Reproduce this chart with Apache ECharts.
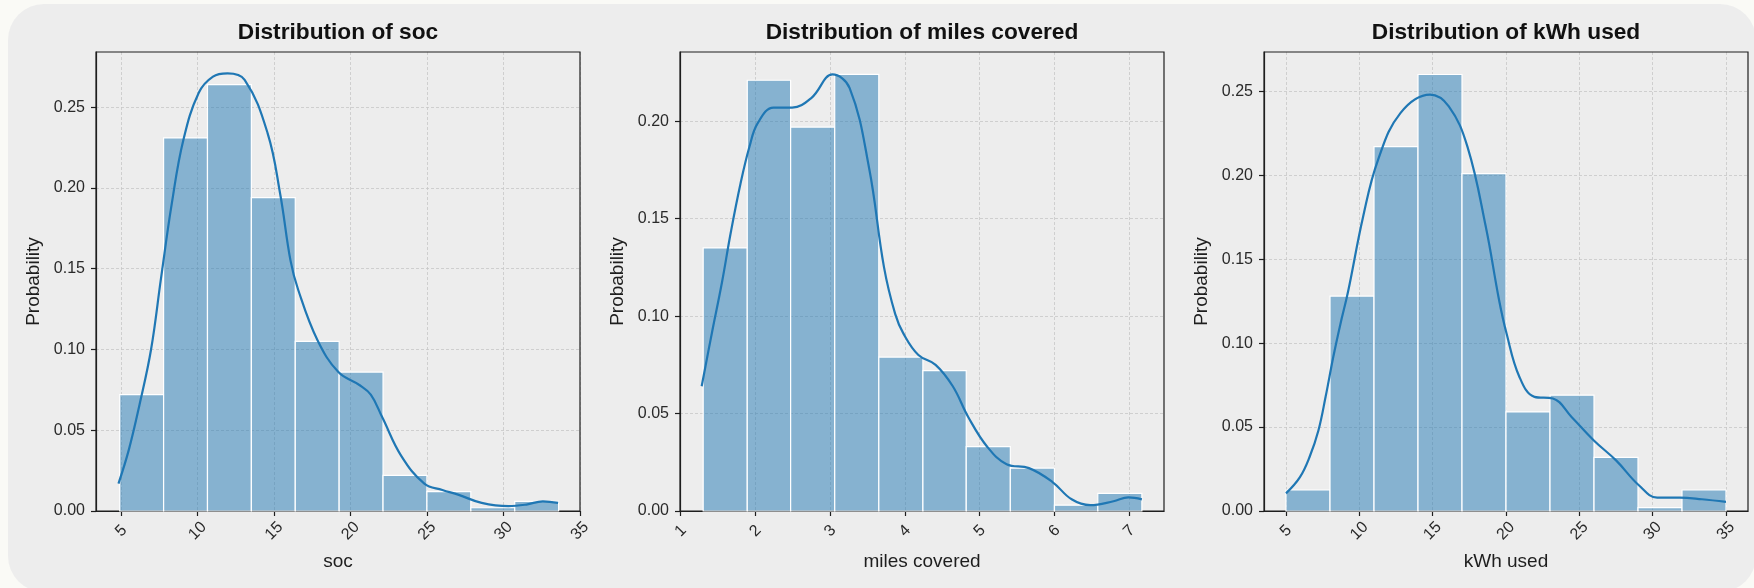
<!DOCTYPE html>
<html>
<head>
<meta charset="utf-8">
<script src="https://cdn.jsdelivr.net/npm/echarts@6/dist/echarts.min.js"></script>
<style>
  html, body { margin: 0; padding: 0; background: #fafaf6; }
  #card {
    position: absolute; left: 8px; top: 4px; width: 1748px; height: 588px;
    background: #ededed; border-radius: 36px;
  }
  #chart { position: absolute; left: 0; top: 0; width: 1754px; height: 588px; }
</style>
</head>
<body>
<div id="card"></div>
<div id="chart"></div>
<script>
// histogram bin edges + probabilities
var socEdges = [4.9, 7.77, 10.64, 13.51, 16.38, 19.25, 22.12, 24.99, 27.86, 30.73, 33.6];
var socProb = [0.072, 0.231, 0.264, 0.194, 0.105, 0.086, 0.022, 0.012, 0.002, 0.006];
var socKdeX = [4.82, 5.5, 6.2, 6.95, 7.6, 8.3, 9.07, 10.07, 11.0, 11.95, 13.07, 14.57, 15.4, 16.07, 16.57, 17.82, 19.2, 20.57, 21.32, 22.07, 23.32, 24.82, 26.0, 27.07, 28.57, 30.32, 31.5, 32.57, 33.57];
var socKdeY = [0.017, 0.038, 0.066, 0.100, 0.144, 0.190, 0.230, 0.259, 0.269, 0.271, 0.267, 0.234, 0.196, 0.155, 0.137, 0.106, 0.086, 0.078, 0.072, 0.058, 0.034, 0.017, 0.013, 0.010, 0.005, 0.003, 0.004, 0.006, 0.005];

var milesEdges = [1.30, 1.89, 2.47, 3.06, 3.65, 4.24, 4.82, 5.41, 6.00, 6.58, 7.17];
var milesProb = [0.135, 0.221, 0.197, 0.224, 0.079, 0.072, 0.033, 0.022, 0.003, 0.009];
var milesKdeX = [1.28, 1.42, 1.55, 1.67, 1.80, 1.92, 2.03, 2.24, 2.49, 2.75, 3.03, 3.26, 3.52, 3.72, 3.87, 3.98, 4.18, 4.41, 4.64, 4.85, 5.10, 5.36, 5.66, 5.97, 6.23, 6.48, 6.79, 6.99, 7.17];
var milesKdeY = [0.064, 0.092, 0.117, 0.143, 0.168, 0.187, 0.199, 0.207, 0.207, 0.212, 0.224, 0.217, 0.176, 0.125, 0.101, 0.091, 0.080, 0.075, 0.064, 0.048, 0.033, 0.024, 0.022, 0.015, 0.006, 0.003, 0.005, 0.007, 0.006];

var kwhEdges = [5, 8, 11, 14, 17, 20, 23, 26, 29, 32, 35];
var kwhProb = [0.0125, 0.128, 0.217, 0.260, 0.201, 0.059, 0.069, 0.032, 0.002, 0.0125];
var kwhKdeX = [5.0, 5.94, 6.6, 7.21, 7.7, 8.23, 8.7, 9.24, 10.25, 11.27, 12.8, 14.82, 16.1, 17.37, 18.63, 19.52, 20.03, 20.91, 21.94, 23.2, 24.47, 25.99, 27.52, 29.04, 30.31, 31.84, 33.36, 35.0];
var kwhKdeY = [0.0105, 0.020, 0.032, 0.048, 0.068, 0.092, 0.111, 0.131, 0.175, 0.209, 0.237, 0.248, 0.241, 0.217, 0.169, 0.126, 0.106, 0.080, 0.068, 0.067, 0.056, 0.042, 0.030, 0.0155, 0.008, 0.008, 0.007, 0.0054];

var titles = ['Distribution of soc', 'Distribution of miles covered', 'Distribution of kWh used'];
var xNames = ['soc', 'miles covered', 'kWh used'];
var xRanges = [[3.35, 35.0], [0.99, 7.466], [3.5, 36.5]];
var xTicks = [[5, 10, 15, 20, 25, 30, 35], [1, 2, 3, 4, 5, 6, 7], [5, 10, 15, 20, 25, 30, 35]];
var yMax = [0.2842, 0.2355, 0.2734];
var yTicks = [[0, 0.05, 0.10, 0.15, 0.20, 0.25], [0, 0.05, 0.10, 0.15, 0.20], [0, 0.05, 0.10, 0.15, 0.20, 0.25]];

var gridLefts = [96, 680, 1264];
var FONT = '"Liberation Sans", Arial, sans-serif';
var INK = '#1e1e1e';
var gridLine = { show: true, lineStyle: { color: '#c6c6c6', width: 0.8, type: [3, 2] } };

var chart = echarts.init(document.getElementById('chart'));

var hists = [[socEdges, socProb], [milesEdges, milesProb], [kwhEdges, kwhProb]];
var kdes = [[socKdeX, socKdeY], [milesKdeX, milesKdeY], [kwhKdeX, kwhKdeY]];

var grids = [], xAxes = [], yAxes = [], series = [], titleOpts = [];
for (var i = 0; i < 3; i++) {
    grids.push({
        left: gridLefts[i], top: 52, width: 484, height: 459, z: 1,
        show: true, borderColor: INK, borderWidth: 1.2, backgroundColor: 'transparent'
    });
    titleOpts.push({
        text: titles[i], left: gridLefts[i] + 242, top: 21, textAlign: 'center', padding: 0,
        textStyle: { fontFamily: FONT, fontSize: 22.7, fontWeight: 'bold', color: '#111' }
    });
    xAxes.push({
        type: 'value', gridIndex: i, min: xRanges[i][0], max: xRanges[i][1],
        name: xNames[i], nameLocation: 'middle', nameGap: 41,
        nameTextStyle: { fontFamily: FONT, fontSize: 19, color: INK },
        axisLine: { show: true, onZero: false, lineStyle: { color: INK, width: 1.2 } },
        axisTick: { show: true, length: 5, lineStyle: { color: INK, width: 1.2 }, customValues: xTicks[i] },
        axisLabel: {
            customValues: xTicks[i], rotate: 45, align: 'center', verticalAlign: 'middle', margin: 20,
            fontFamily: FONT, fontSize: 16, color: '#2a2a2a'
        },
        splitLine: gridLine
    });
    yAxes.push({
        type: 'value', gridIndex: i, min: 0, max: yMax[i],
        name: 'Probability', nameLocation: 'middle', nameGap: 53, nameRotate: 90,
        nameTextStyle: { fontFamily: FONT, fontSize: 19, color: INK },
        axisLine: { show: true, lineStyle: { color: INK, width: 1.2 } },
        axisTick: { show: true, length: 5, lineStyle: { color: INK, width: 1.2 }, customValues: yTicks[i] },
        axisLabel: {
            customValues: yTicks[i], margin: 11, fontFamily: FONT, fontSize: 16, color: '#2a2a2a',
            formatter: function (v) { return v.toFixed(2); }
        },
        splitLine: gridLine
    });

    var edges = hists[i][0], probs = hists[i][1];
    series.push({
        type: 'custom', xAxisIndex: i, yAxisIndex: i,
        data: probs.map(function (p, k) { return [edges[k], edges[k + 1], p]; }),
        encode: { x: [0, 1], y: 2 },
        renderItem: function (params, api) {
            var a = api.coord([api.value(0), api.value(2)]);
            var b = api.coord([api.value(1), 0]);
            return {
                type: 'rect',
                shape: { x: a[0], y: a[1], width: b[0] - a[0], height: b[1] - a[1] },
                style: { fill: 'rgba(31,119,180,0.5)', stroke: '#ffffff', lineWidth: 1.2 }
            };
        }
    });

    var kx = kdes[i][0], ky = kdes[i][1];
    series.push({
        type: 'line', xAxisIndex: i, yAxisIndex: i,
        data: kx.map(function (x, k) { return [x, ky[k]]; }),
        smooth: 0.4, symbol: 'none', z: 5,
        lineStyle: { color: '#1f77b4', width: 2.2 }
    });
}

chart.setOption({
    animation: false,
    title: titleOpts,
    grid: grids,
    xAxis: xAxes,
    yAxis: yAxes,
    series: series
});
</script>
</body>
</html>
